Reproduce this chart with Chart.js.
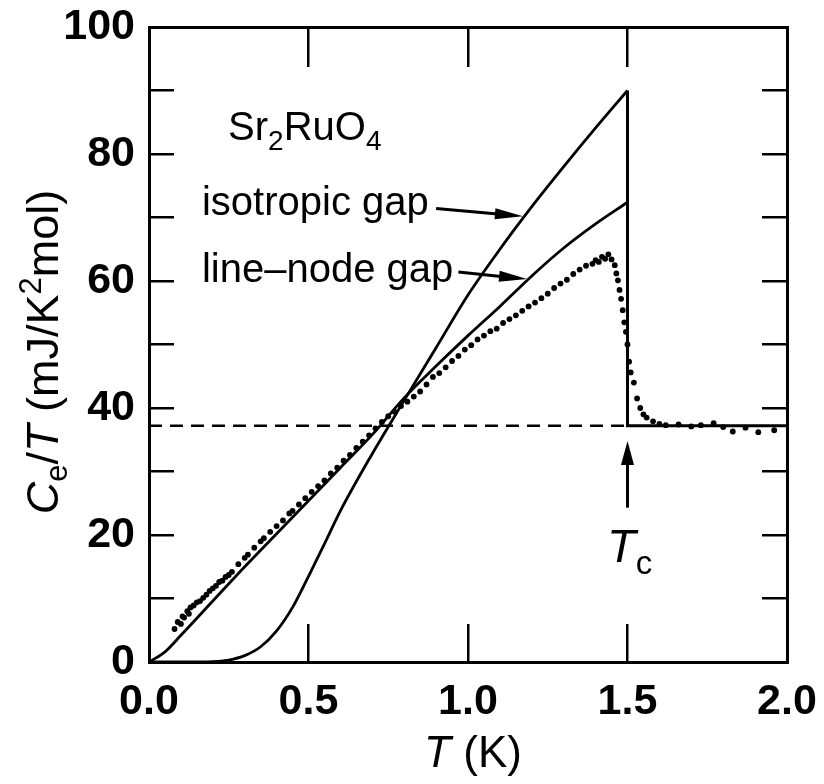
<!DOCTYPE html>
<html>
<head>
<meta charset="utf-8">
<script src="https://cdn.jsdelivr.net/npm/chart.js@4.4.1/dist/chart.umd.min.js"></script>
<style>
  html, body { margin: 0; padding: 0; background: #fff; }
  #wrap { width: 824px; height: 784px; }
</style>
</head>
<body>
<div id="wrap"><canvas id="chart" width="824" height="784"></canvas></div>
<script>
// measured points, Sr2RuO4
const tempK = [0.08, 0.09, 0.10, 0.105, 0.11, 0.12, 0.125, 0.13, 0.14, 0.15, 0.16, 0.17, 0.18, 0.19, 0.20,
  0.21, 0.22, 0.23, 0.24, 0.25, 0.26, 0.28, 0.30, 0.31, 0.33, 0.35, 0.36, 0.38, 0.40, 0.42, 0.44, 0.45,
  0.47, 0.49, 0.51, 0.53, 0.55, 0.57, 0.59, 0.61, 0.63, 0.65, 0.67, 0.69, 0.71, 0.73, 0.75, 0.77, 0.79,
  0.81, 0.83, 0.85, 0.87, 0.89, 0.91, 0.93, 0.95, 0.97, 0.99, 1.01, 1.03, 1.05, 1.07, 1.09, 1.11, 1.13,
  1.15, 1.17, 1.19, 1.21, 1.23, 1.25, 1.27, 1.29, 1.31, 1.33, 1.35, 1.37, 1.39, 1.40, 1.41, 1.42, 1.43,
  1.44, 1.45, 1.46, 1.465, 1.47, 1.475, 1.48, 1.485, 1.49, 1.495, 1.50, 1.505, 1.51, 1.52, 1.53, 1.54,
  1.55, 1.56, 1.58, 1.60, 1.62, 1.66, 1.70, 1.73, 1.77, 1.80, 1.83, 1.87, 1.91, 1.96];
const ceOverT = [5.2, 6.3, 6.0, 7.2, 7.0, 8.0, 7.6, 8.6, 8.9, 9.4, 9.6, 10.1, 10.6, 11.2, 11.6,
  12.0, 12.6, 12.8, 13.4, 13.7, 14.2, 15.4, 16.4, 16.9, 18.0, 19.0, 19.5, 20.5, 21.4, 22.3, 23.4, 23.8,
  24.8, 25.8, 26.8, 27.7, 28.6, 29.7, 30.6, 31.7, 32.6, 33.7, 34.7, 35.7, 36.8, 37.8, 38.7, 39.4, 40.3,
  41.0, 41.8, 42.6, 43.7, 44.9, 45.5, 46.4, 47.4, 48.2, 49.2, 49.9, 50.8, 51.4, 52.1, 52.5, 53.4, 54.0,
  54.6, 55.3, 56.0, 56.6, 57.3, 58.0, 58.9, 59.6, 60.2, 61.1, 61.8, 62.4, 62.7, 63.3, 63.0, 63.8, 63.5,
  64.2, 63.4, 62.5, 61.2, 60.1, 58.6, 57.2, 55.4, 53.5, 52.0, 50.0, 47.3, 45.6, 44.0, 41.5, 40.0,
  39.0, 38.5, 37.9, 37.5, 37.3, 37.4, 37.1, 37.3, 37.6, 37.0, 36.3, 36.9, 36.2, 36.5];

// calculated curves
const isoT = [0, 0.1, 0.2, 0.25, 0.3, 0.35, 0.4, 0.45, 0.5, 0.55, 0.6, 0.7, 0.8, 0.9, 1.0, 1.1, 1.2, 1.3, 1.4, 1.5];
const isoC = [0, 0, 0.05, 0.3, 1.0, 2.4, 4.9, 8.6, 13.5, 18.6, 23.8, 32.8, 41.2, 49.5, 57.8, 65.0, 71.7, 78.0, 84.1, 90.0];
const lineT = [0, 0.05, 0.1, 0.2, 0.3, 0.4, 0.5, 0.6, 0.7, 0.8, 0.9, 1.0, 1.1, 1.2, 1.3, 1.4, 1.5];
const lineC = [0, 1.6, 4.2, 9.6, 15.0, 20.2, 25.4, 30.6, 35.8, 41.6, 46.6, 51.4, 56.0, 60.8, 65.2, 69.0, 72.4];

const gammaN = 37.2;   // normal state
const tc = 1.5;
const tMax = 2.0;
const isoTop = 90.0;

const xy = (xs, ys) => xs.map((x, i) => ({ x: x, y: ys[i] }));

const FONT = "'Liberation Sans', Arial, Helvetica, sans-serif";

function arrow(ctx, x1, y1, x2, y2, len, half) {
  const a = Math.atan2(y2 - y1, x2 - x1);
  ctx.beginPath();
  ctx.moveTo(x1, y1);
  ctx.lineTo(x2 - Math.cos(a) * len * 0.6, y2 - Math.sin(a) * len * 0.6);
  ctx.stroke();
  ctx.beginPath();
  ctx.moveTo(x2, y2);
  ctx.lineTo(x2 - Math.cos(a) * len - Math.sin(a) * half, y2 - Math.sin(a) * len + Math.cos(a) * half);
  ctx.lineTo(x2 - Math.cos(a) * len + Math.sin(a) * half, y2 - Math.sin(a) * len - Math.cos(a) * half);
  ctx.closePath();
  ctx.fill();
}

// draw a run of text pieces with their own font and vertical shift
function rich(ctx, x, y, parts) {
  let cx = x;
  parts.forEach(p => {
    ctx.font = p.f;
    ctx.fillText(p.t, cx, y + (p.dy || 0));
    cx += ctx.measureText(p.t).width;
  });
}
function richWidth(ctx, parts) {
  let w = 0;
  parts.forEach(p => { ctx.font = p.f; w += ctx.measureText(p.t).width; });
  return w;
}

const labels = {
  id: 'labels',
  afterDraw(chart) {
    const ctx = chart.ctx;
    const sx = chart.scales.x, sy = chart.scales.y;
    const px = v => sx.getPixelForValue(v), py = v => sy.getPixelForValue(v);
    ctx.save();
    ctx.fillStyle = '#000';
    ctx.strokeStyle = '#000';
    ctx.lineWidth = 3;
    ctx.textBaseline = 'alphabetic';
    ctx.textAlign = 'left';

    const f39 = '40px ' + FONT, f27 = '28px ' + FONT;
    rich(ctx, px(0.248), py(82.2), [
      { t: 'Sr', f: f39 }, { t: '2', f: f27, dy: 10 }, { t: 'RuO', f: f39 }, { t: '4', f: f27, dy: 10 }
    ]);
    rich(ctx, px(0.166), py(70.4), [{ t: 'isotropic gap', f: f39 }]);
    rich(ctx, px(0.166), py(59.8), [{ t: 'line\u2013node gap', f: f39 }]);
    arrow(ctx, px(0.90), py(71.4), px(1.172), py(70.2), 28, 5.5);
    arrow(ctx, px(0.97), py(61.4), px(1.185), py(60.3), 28, 5.5);
    arrow(ctx, px(tc), py(24.3), px(tc), py(34.8), 24, 6.5);

    rich(ctx, px(1.436), py(15.8), [
      { t: 'T', f: 'italic 47px ' + FONT }, { t: 'c', f: '33px ' + FONT, dy: 12 }
    ]);

    // x title
    const xt = [{ t: 'T', f: 'italic 44px ' + FONT }, { t: ' (K)', f: '44px ' + FONT }];
    const xw = richWidth(ctx, xt);
    rich(ctx, 473 - xw / 2, 767, xt);

    // y title, rotated
    const yt = [
      { t: 'C', f: 'italic 45px ' + FONT }, { t: 'e', f: '31px ' + FONT, dy: 9 },
      { t: '/', f: '45px ' + FONT }, { t: 'T', f: 'italic 45px ' + FONT },
      { t: ' (mJ/K', f: '45px ' + FONT }, { t: '2', f: '31px ' + FONT, dy: -17 },
      { t: 'mol)', f: '45px ' + FONT }
    ];
    const yw = richWidth(ctx, yt);
    ctx.translate(58, 352);
    ctx.rotate(-Math.PI / 2);
    rich(ctx, -yw / 2, 0, yt);
    ctx.restore();
  }
};

const tickFont = { family: FONT, size: 43, weight: 'bold' };
const gridInward = len => ({ drawOnChartArea: false, drawTicks: true, tickLength: -len, color: '#000', lineWidth: 2.5 });
const frame = { display: true, color: '#000', width: 3 };
const noPad = a => { a.paddingLeft = 0; a.paddingRight = 0; a.paddingTop = 0; a.paddingBottom = 0; };

new Chart(document.getElementById('chart'), {
  type: 'scatter',
  data: {
    datasets: [
      { data: xy(tempK, ceOverT), pointRadius: 2.9, pointBackgroundColor: '#000', pointBorderWidth: 0, showLine: false },
      { data: xy(isoT, isoC), showLine: true, borderColor: '#000', borderWidth: 2.8, pointRadius: 0, cubicInterpolationMode: 'monotone' },
      { data: xy(lineT, lineC), showLine: true, borderColor: '#000', borderWidth: 2.8, pointRadius: 0, cubicInterpolationMode: 'monotone' },
      { data: [{ x: tc, y: isoTop }, { x: tc, y: gammaN }, { x: tMax, y: gammaN }], showLine: true, borderColor: '#000', borderWidth: 3, pointRadius: 0, tension: 0 },
      { data: [{ x: 0, y: gammaN }, { x: tc, y: gammaN }], showLine: true, borderColor: '#000', borderWidth: 2.5, borderDash: [13, 8], pointRadius: 0, tension: 0 }
    ]
  },
  options: {
    responsive: false,
    animation: false,
    events: [],
    layout: { padding: 0, autoPadding: false },
    plugins: { legend: { display: false }, tooltip: { enabled: false } },
    scales: {
      x: {
        type: 'linear', position: 'bottom', min: 0, max: tMax,
        ticks: { stepSize: 0.5, color: '#000', font: tickFont, padding: 52, maxRotation: 0, callback: v => v.toFixed(1) },
        grid: gridInward(38), border: frame,
        afterFit: a => { a.height = 122; noPad(a); }
      },
      x2: {
        type: 'linear', position: 'top', min: 0, max: tMax,
        ticks: { stepSize: 0.5, display: false },
        grid: gridInward(40), border: frame,
        afterFit: a => { a.height = 27; noPad(a); }
      },
      y: {
        type: 'linear', position: 'left', min: 0, max: 100,
        ticks: { stepSize: 10, color: '#000', font: tickFont, padding: 39, callback: v => (v % 20 === 0 ? String(v) : '') },
        grid: gridInward(25), border: frame,
        afterFit: a => { a.width = 149; noPad(a); }
      },
      y2: {
        type: 'linear', position: 'right', min: 0, max: 100,
        ticks: { stepSize: 10, display: false },
        grid: gridInward(25), border: frame,
        afterFit: a => { a.width = 37; noPad(a); }
      }
    }
  },
  plugins: [labels]
});
</script>
</body>
</html>
